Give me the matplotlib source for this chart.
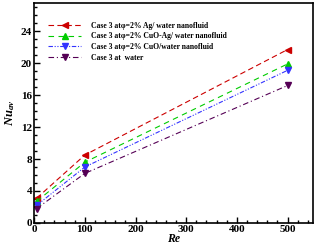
import matplotlib
matplotlib.use('Agg')
import matplotlib.pyplot as plt
from matplotlib.ticker import MultipleLocator

# Reynolds numbers and average Nusselt numbers
re_values = [5, 100, 500]
nu_ag = [3.1, 8.5, 21.7]
nu_cuo_ag = [2.7, 7.6, 19.9]
nu_cuo = [2.2, 7.0, 19.1]
nu_water = [1.8, 6.2, 17.2]

labels = [
    'Case 3 at\u03c6=2% Ag/ water nanofluid',
    'Case 3 at\u03c6=2% CuO-Ag/ water nanofluid',
    'Case 3 at\u03c6=2% CuO/water nanofluid',
    'Case 3 at  water',
]

plt.rcParams['font.family'] = ['Liberation Serif', 'DejaVu Serif']
# bold italic serif for the subscript in the y label
plt.rcParams['mathtext.fontset'] = 'custom'
plt.rcParams['mathtext.rm'] = 'Liberation Serif:italic:bold'
plt.rcParams['mathtext.it'] = 'Liberation Serif:italic:bold'

fig = plt.figure(figsize=(3.19, 2.45), dpi=100)
ax = fig.add_axes([0.107, 0.09, 0.874, 0.897])

ax.plot(re_values, nu_ag, color='#cc0000', linestyle=(0, (5, 3)), lw=0.8,
        marker='<', markersize=4, label=labels[0])
ax.plot(re_values, nu_cuo_ag, color='#00cc00', linestyle=(0, (5, 4)), lw=0.8,
        marker='^', markersize=4, label=labels[1])
ax.plot(re_values, nu_cuo, color='#3333ff', linestyle=(0, (4, 1.5, 1, 1.5, 1, 1.5)), lw=0.8,
        marker='v', markersize=4, label=labels[2])
ax.plot(re_values, nu_water, color='#550055', linestyle=(0, (5, 2.5, 1, 2.5)), lw=0.8,
        marker='v', markersize=4, label=labels[3])

ax.set_xlim(0, 550)
ax.set_ylim(0, 27.5)
ax.xaxis.set_major_locator(MultipleLocator(100))
ax.xaxis.set_minor_locator(MultipleLocator(20))
ax.yaxis.set_major_locator(MultipleLocator(4))
ax.yaxis.set_minor_locator(MultipleLocator(1))
ax.tick_params(which='both', direction='in', top=False, right=False, width=1)
ax.tick_params(which='major', length=4, labelsize=8, pad=1.5)
ax.tick_params(which='minor', length=2)
for lbl in ax.get_xticklabels() + ax.get_yticklabels():
    lbl.set_fontweight('bold')
for spine in ax.spines.values():
    spine.set_linewidth(1.2)

ax.set_xlabel('Re', fontsize=8.5, fontweight='bold', style='italic', labelpad=-1)
ax.set_ylabel('Nu$_{av}$', fontsize=9, fontweight='bold', style='italic', labelpad=3)

leg = ax.legend(loc='upper left', bbox_to_anchor=(0.04, 0.93), frameon=False,
                prop={'size': 5.5, 'weight': 'bold'}, handlelength=4.3, handletextpad=1.3,
                labelspacing=0.35, borderaxespad=0)

fig.savefig('out.png', dpi=100)
